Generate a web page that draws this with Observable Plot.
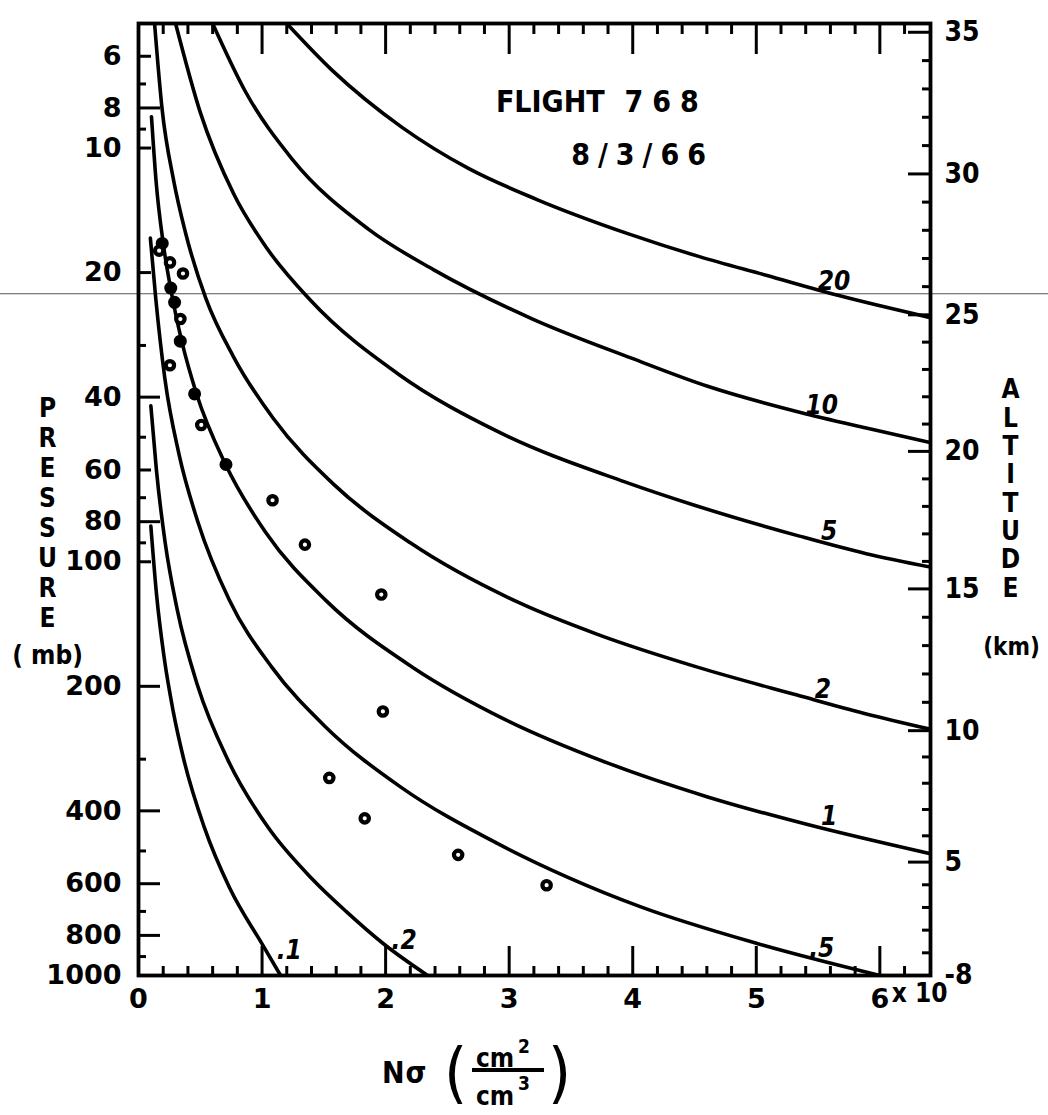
<!DOCTYPE html>
<html>
<head>
<meta charset="utf-8">
<script src="https://cdn.jsdelivr.net/npm/d3@7"></script>
<script src="https://cdn.jsdelivr.net/npm/@observablehq/plot@0.6"></script>
<style>
  body { margin: 0; background: #fff; }
  #wrap { position: relative; width: 1048px; height: 1115px; overflow: hidden; background: #fff; }
  .cap { position: absolute; font-family: 'DejaVu Sans Condensed', 'DejaVu Sans', sans-serif; font-weight: bold; color: #000; line-height: 1; white-space: nowrap; }
</style>
</head>
<body>
<div id="wrap">
  <div id="chart"></div>
  <span class="cap" style="left:382px;top:1058px;font-size:30px;letter-spacing:1px;">Nσ</span>
  <span class="cap" style="left:444px;top:1040px;font-size:66px;font-weight:normal;">(</span>
  <span class="cap" style="left:476px;top:1045px;font-size:26px;">cm</span>
  <span class="cap" style="left:518px;top:1037px;font-size:19px;">2</span>
  <div style="position:absolute;left:472px;top:1068px;width:72px;height:4px;background:#000;"></div>
  <span class="cap" style="left:476px;top:1083px;font-size:26px;">cm</span>
  <span class="cap" style="left:518px;top:1074px;font-size:19px;">3</span>
  <span class="cap" style="left:548px;top:1040px;font-size:66px;font-weight:normal;">)</span>
</div>
<script>
// ---------- axis tick values and labels ----------
const pLabels = [6, 8, 10, 20, 40, 60, 80, 100, 200, 400, 600, 800, 1000];
const pTicksLong = [8, 40, 80, 200, 400, 600, 800];
const pTicksMid = [6, 10, 20, 60, 100];
const pTicksShort = [7, 9, 30, 50, 70, 90, 300, 500, 700, 900];
const xLabels = [0, 1, 2, 3, 4, 5, 6];
const xTicksMajor = [1, 2, 3, 4, 5, 6];
const xTicksMinor = [0.2, 0.4, 0.6, 0.8, 1.2, 1.4, 1.6, 1.8, 2.2, 2.4, 2.6, 2.8, 3.2, 3.4, 3.6, 3.8,
                     4.2, 4.4, 4.6, 4.8, 5.2, 5.4, 5.6, 5.8, 6.2];
const altKm = [0, 5, 10, 15, 20, 25, 30, 35];
const altLabels = ["-8", "5", "10", "15", "20", "25", "30", "35"];
const altP = [1000, 532, 256, 116.3, 54.1, 25.3, 11.55, 5.25];   // pressure (mb) at each altitude tick

// ---------- curves (pressure mb, Nσ value) ----------
const curveNames = ["20", "10", "5", "2", "1", ".5", ".2", ".1"];
const curve20P = [5.0, 6.5, 8.9, 11.2, 13.3, 16.1, 18.3, 20.3, 22.7, 25.7];
const curve20X = [1.20, 1.57, 2.13, 2.67, 3.22, 3.96, 4.54, 5.08, 5.66, 6.41];
const curve10P = [5.0, 7.3, 10.6, 15.7, 19.7, 25.9, 32.2, 37.6, 43.5, 47.5, 51.5];
const curve10X = [0.60, 0.865, 1.24, 1.86, 2.39, 3.19, 3.99, 4.60, 5.35, 5.89, 6.41];
const curve5P = [5.0, 8.2, 12.9, 17.4, 23.3, 35.3, 48.8, 64.0, 73.0, 86.7, 95.6, 103];
const curve5X = [0.30, 0.50, 0.77, 1.035, 1.39, 2.11, 2.93, 3.93, 4.50, 5.35, 5.89, 6.41];
const curve2P = [5.0, 8.0, 12, 16, 23.1, 32, 45, 65, 90, 125.6, 150, 180, 210, 232.6, 254];
const curve2X = [0.13, 0.19, 0.285, 0.38, 0.545, 0.77, 1.09, 1.58, 2.20, 3.08, 3.72, 4.53, 5.33, 5.875, 6.41];
const curve1P = [8.4, 12, 17, 22, 29.3, 39.3, 58.2, 85, 124.3, 180, 240, 306.7, 369.6, 430.6, 508];
const curve1X = [0.105, 0.142, 0.20, 0.262, 0.35, 0.47, 0.705, 1.03, 1.52, 2.22, 2.96, 3.80, 4.60, 5.40, 6.41];
const curveHalfP = [16.5, 23, 36, 55, 80, 123.7, 180, 250, 350, 478.8, 580, 681.7, 839, 1000];
const curveHalfX = [0.096, 0.139, 0.213, 0.328, 0.48, 0.735, 1.08, 1.51, 2.12, 2.90, 3.48, 4.06, 5.02, 6.0];
const curveFifthP = [42, 60, 90, 130, 200, 302, 439, 582, 700, 837, 1000];
const curveFifthX = [0.10, 0.145, 0.216, 0.312, 0.48, 0.725, 1.05, 1.40, 1.68, 1.98, 2.34];
const curveTenthP = [82, 120, 170, 230, 301, 438, 613, 839, 1000];
const curveTenthX = [0.10, 0.146, 0.207, 0.281, 0.367, 0.532, 0.736, 1.0, 1.15];

// curve label anchors (value, pressure)
const labelX = [5.63, 5.53, 5.59, 5.54, 5.59, 5.53, 2.15, 1.22];
const labelP = [21.0, 41.9, 84.5, 203.6, 412.6, 860.6, 823, 870];

// ---------- measured points ----------
const filledP = [17.0, 21.8, 23.6, 29.3, 39.3, 58.2];
const filledX = [0.192, 0.261, 0.292, 0.338, 0.454, 0.708];
const openP = [17.7, 18.9, 20.1, 25.9, 33.5, 46.7, 71.0, 90.9, 120.0, 230, 333, 417, 511, 605];
const openX = [0.167, 0.255, 0.36, 0.339, 0.254, 0.508, 1.085, 1.347, 1.965, 1.978, 1.544, 1.831, 2.587, 3.303];

// scan line across the page (pressure level)
const scanLineP = [22.5];

// ---------- build tables ----------
const curvePressures = [curve20P, curve10P, curve5P, curve2P, curve1P, curveHalfP, curveFifthP, curveTenthP];
const curveValues = [curve20X, curve10X, curve5X, curve2X, curve1X, curveHalfX, curveFifthX, curveTenthX];
const curveRows = curveNames.flatMap((name, i) =>
  curvePressures[i].map((p, j) => ({name, p, x: curveValues[i][j]})));
const labelRows = curveNames.map((name, i) => ({name, x: labelX[i], p: labelP[i]}));
const filledRows = filledP.map((p, i) => ({p, x: filledX[i]}));
const openRows = openP.map((p, i) => ({p, x: openX[i]}));

const altToLogP = d3.scaleLinear(altKm, altP.map(Math.log10));
const altMinorKm = d3.range(1, 35).filter(k => k % 5 !== 0);
const altMinorP = altMinorKm.map(k => 10 ** altToLogP(k));
const altLabelMap = new Map(altP.map((p, i) => [p, altLabels[i]]));

const W = 1048, H = 1030, mL = 138, mR = 118, mT = 23, mB = 55;
const PW = W - mL - mR, PH = H - mT - mB;
const FONT = "'DejaVu Sans Condensed', 'DejaVu Sans', sans-serif";
const WIDE = "'DejaVu Sans', sans-serif";

const chart = Plot.plot({
  width: W, height: H,
  marginLeft: mL, marginRight: mR, marginTop: mT, marginBottom: mB,
  x: {domain: [0, 6.41], axis: null, label: null},
  y: {type: "log", domain: [5, 1000], reverse: true, axis: null, label: null},
  style: {fontFamily: FONT, fontWeight: "bold", background: "#fff", color: "#000", overflow: "visible"},
  marks: [
    Plot.ruleY(scanLineP, {y: d => d, insetLeft: -mL, insetRight: -mR, stroke: "#555", strokeWidth: 1.2}),
    // left pressure ticks (inward)
    Plot.ruleY(pTicksLong, {y: d => d, insetRight: PW - 22, strokeWidth: 3}),
    Plot.ruleY(pTicksMid, {y: d => d, insetRight: PW - 13, strokeWidth: 3}),
    Plot.ruleY(pTicksShort, {y: d => d, insetRight: PW - 8, strokeWidth: 3}),
    // right altitude ticks (inward)
    Plot.ruleY(altP, {y: d => d, insetLeft: PW - 22, strokeWidth: 3}),
    Plot.ruleY(altMinorP, {y: d => d, insetLeft: PW - 8, strokeWidth: 3}),
    // bottom ticks
    Plot.ruleX(xTicksMajor, {x: d => d, insetTop: PH - 29, strokeWidth: 3}),
    Plot.ruleX(xTicksMinor, {x: d => d, insetTop: PH - 9, strokeWidth: 3}),
    // top ticks
    Plot.ruleX(xTicksMajor, {x: d => d, insetBottom: PH - 31, strokeWidth: 3}),
    Plot.ruleX(xTicksMinor, {x: d => d, insetBottom: PH - 11, strokeWidth: 3}),
    // curves
    Plot.line(curveRows, {x: "x", y: "p", z: "name", curve: "monotone-x", stroke: "#000", strokeWidth: 3.6, clip: true}),
    Plot.frame({stroke: "#000", strokeWidth: 3.8}),
    // data points
    Plot.dot(filledRows, {x: "x", y: "p", r: 6.5, fill: "#000", stroke: "none"}),
    Plot.dot(openRows, {x: "x", y: "p", r: 4.2, fill: "#fff", stroke: "#000", strokeWidth: 4.2}),
    // axes labels
    Plot.axisY(pLabels, {anchor: "left", tickSize: 0, tickPadding: 17, fontSize: 27, fontFamily: WIDE, tickFormat: d => String(d)}),
    Plot.axisY(altP, {anchor: "right", tickSize: 0, tickPadding: 14, fontSize: 28, tickFormat: d => altLabelMap.get(d)}),
    Plot.axisX(xLabels, {anchor: "bottom", tickSize: 0, tickPadding: 13, fontSize: 27, fontFamily: WIDE, tickFormat: d => String(d)}),
    Plot.text(["x 10"], {frameAnchor: "bottom-right", dx: 17, dy: 26, textAnchor: "end", fontSize: 26}),
    // curve labels
    Plot.text(labelRows, {x: "x", y: "p", text: "name", fontSize: 26, fontStyle: "italic"}),
    // title
    Plot.text(["FLIGHT"], {x: 3.333, y: 7.76, fontSize: 30}),
    Plot.text(["768"], {x: 4.27, y: 7.76, fontSize: 30}),
    Plot.text(["8/3/66"], {x: 4.08, y: 10.42, fontSize: 30}),
    // axis titles
    Plot.text(["P\nR\nE\nS\nS\nU\nR\nE"], {frameAnchor: "left", textAnchor: "middle", dx: -91, dy: 13, fontSize: 26, lineHeight: 1.15}),
    Plot.text(["( mb)"], {frameAnchor: "left", textAnchor: "middle", dx: -91, dy: 156, fontSize: 26}),
    Plot.text(["A\nL\nT\nI\nT\nU\nD\nE"], {frameAnchor: "right", textAnchor: "middle", dx: 80, dy: -11, fontSize: 26, lineHeight: 1.09}),
    Plot.text(["(km)"], {frameAnchor: "right", textAnchor: "middle", dx: 81, dy: 148, fontSize: 24})
  ]
});

chart.querySelectorAll("text").forEach(t => {
  const s = t.textContent;
  if (s === "768") t.style.letterSpacing = "9px";
  if (s === "8/3/66") t.style.letterSpacing = "8px";
});
document.getElementById("chart").appendChild(chart);
</script>
</body>
</html>
